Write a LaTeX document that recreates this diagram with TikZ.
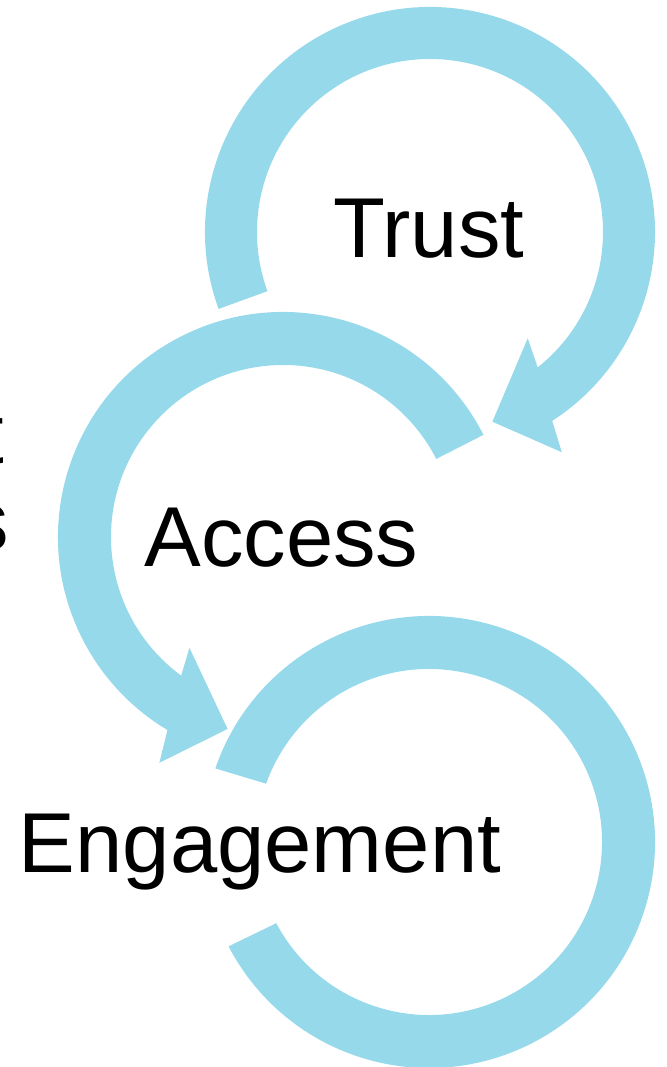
\documentclass[tikz,border=0pt]{standalone}
\usepackage{fontspec}
\setmainfont{Liberation Sans}
\definecolor{arrowblue}{RGB}{150,217,235}
\newcommand{\lblfont}{\fontsize{85}{100}\selectfont}
\begin{document}
\begin{tikzpicture}[x=1pt,y=1pt,
  arrowband/.style={fill=arrowblue, draw=none},
  lbl/.style={font=\lblfont, text=black, inner sep=0pt, anchor=base}]
\useasboundingbox (0,0) rectangle (666,1067);
\clip (0,0) rectangle (666,1067);
% Trust circular arrow
\begin{scope}[shift={(430,835)}]
  \fill[arrowband] (200:225) arc[start angle=200, end angle=-57.1, radius=225]
    -- (-59.1:256.7) -- (-71.8:199.7) -- (-47.4:144.4) -- (-51.5:173)
    arc[start angle=-51.5, end angle=200, radius=173] -- cycle;
\end{scope}
% Access circular arrow
\begin{scope}[shift={(283,530)}]
  \fill[arrowband] (27:225) arc[start angle=27, end angle=239.1, radius=225]
    -- (241.3:257.4) -- (253.9:199.8) -- (229.8:145) -- (233.7:172)
    arc[start angle=233.7, end angle=27, radius=172] -- cycle;
\end{scope}
% Engagement open circle
\begin{scope}[shift={(429,225)}]
  \fill[arrowband] (161:226) arc[start angle=161, end angle=-152.5, radius=226]
    -- (-152:173) arc[start angle=-152, end angle=160.3, radius=173] -- cycle;
\end{scope}
% labels
\node[lbl] (trust) at (429,809) {Trust};
\node[lbl] (access) at (281.5,500) {Access};
\node[lbl] (engagement) at (260,194) {Engagement};
% clipped fragments at the left edge
\node[lbl, anchor=base east] (fragt) at (4,603) {t};
\node[lbl, anchor=base east] (frags) at (9,516) {s};
\end{tikzpicture}
\end{document}
